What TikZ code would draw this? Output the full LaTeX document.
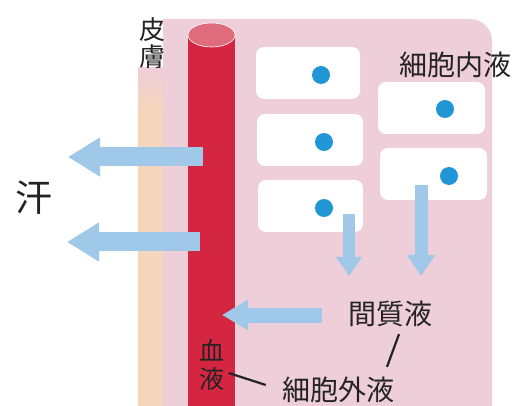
\documentclass[tikz,border=0pt]{standalone}
\usepackage{fontspec}
\setmainfont{Noto Sans CJK JP}
\usetikzlibrary{arrows.meta}
\definecolor{tissue}{RGB}{238,206,216}
\definecolor{skin}{RGB}{246,214,186}
\definecolor{blood}{RGB}{212,38,64}
\definecolor{bloodtop}{RGB}{222,108,124}
\definecolor{flowblue}{RGB}{160,200,232}
\definecolor{nucleusblue}{RGB}{32,150,214}
\definecolor{inkgray}{RGB}{35,35,35}

\begin{document}
\begin{tikzpicture}[x=1pt, y=-1pt,
    cell/.style={fill=white, rounded corners=8pt},
    nucleus/.style={circle, fill=nucleusblue, minimum size=18pt, inner sep=0pt},
    label/.style={text=inkgray, inner sep=0pt, font=\fontsize{28}{30}\selectfont},
    leader/.style={draw=inkgray, line width=2.2pt},
    bigflow/.style={draw=flowblue, line width=19pt, -{Triangle[width=37pt,length=32pt]}},
    midflow/.style={draw=flowblue, line width=15pt, -{Triangle[width=29pt,length=26pt]}},
    smallflow/.style={draw=flowblue, line width=12pt, -{Triangle[width=25pt,length=19pt]}}]
    \useasboundingbox (0,0) rectangle (517,406);

    % tissue and skin layer
    \fill[tissue] (138,406) -- (138,68) -- (163,68) -- (163,19) -- (470,19)
        arc[start angle=-90, end angle=0, radius=22] -- (492,406) -- cycle;
    \shade[top color=tissue, bottom color=skin] (138,68) rectangle (163,112);
    \fill[skin] (138,112) rectangle (163,406);

    % blood vessel
    \fill[blood] (188,35) rectangle (235,406);
    \draw[white, line width=0.6pt, fill=bloodtop] (211.5,35) ellipse [x radius=23.5, y radius=12];

    % cells
    \fill[cell] (256,47) rectangle (360,99);
    \fill[cell] (257,114) rectangle (363,166);
    \fill[cell] (258,180) rectangle (363,232);
    \fill[cell] (378,82) rectangle (485,134);
    \fill[cell] (380,148) rectangle (487,200);
    \node[nucleus] (n1) at (321,75) {};
    \node[nucleus] (n2) at (324,142) {};
    \node[nucleus] (n3) at (324,208) {};
    \node[nucleus] (n4) at (445,109) {};
    \node[nucleus] (n5) at (449,176) {};

    % labels
    \node[label, align=center, font=\fontsize{26}{27}\selectfont] (hifu) at (152,43) {皮\\膚};
    \node[label, font=\fontsize{37}{40}\selectfont] (ase) at (34,198) {汗};
    \node[label] (naieki) at (455,65) {細胞内液};
    \node[label] (kanshitsu) at (390,314) {間質液};
    \node[label] (gaieki) at (338,390) {細胞外液};
    \node[label, align=center, font=\fontsize{25}{28}\selectfont] (ketsueki) at (212,365) {血\\液};

    % water flow
    \coordinate (sweatA) at (68,157);
    \coordinate (sweatB) at (67,242);
    \coordinate (vesselA) at (203,157);
    \coordinate (vesselB) at (200,242);
    \coordinate (vesselIn) at (222,315);
    \coordinate (fluidOut) at (322,315);
    \coordinate (dropA) at (349,276);
    \coordinate (dropB) at (421,276);
    \draw[bigflow] (vesselA) -- (sweatA);
    \draw[bigflow] (vesselB) -- (sweatB);
    \draw[midflow] (fluidOut) -- (vesselIn);
    \draw[smallflow] (dropA |- 0,214) -- (dropA);
    \draw[smallflow, line width=13pt, -{Triangle[width=27pt,length=21pt]}] (dropB |- 0,185) -- (dropB);

    % leader lines
    \draw[leader] ([xshift=4pt,yshift=-8pt]ketsueki.east) -- ([xshift=-16pt,yshift=5pt]gaieki.west);
    \draw[leader] ([xshift=9pt,yshift=-7pt]kanshitsu.south) -- ([xshift=49pt,yshift=10pt]gaieki.north);
\end{tikzpicture}
\end{document}
